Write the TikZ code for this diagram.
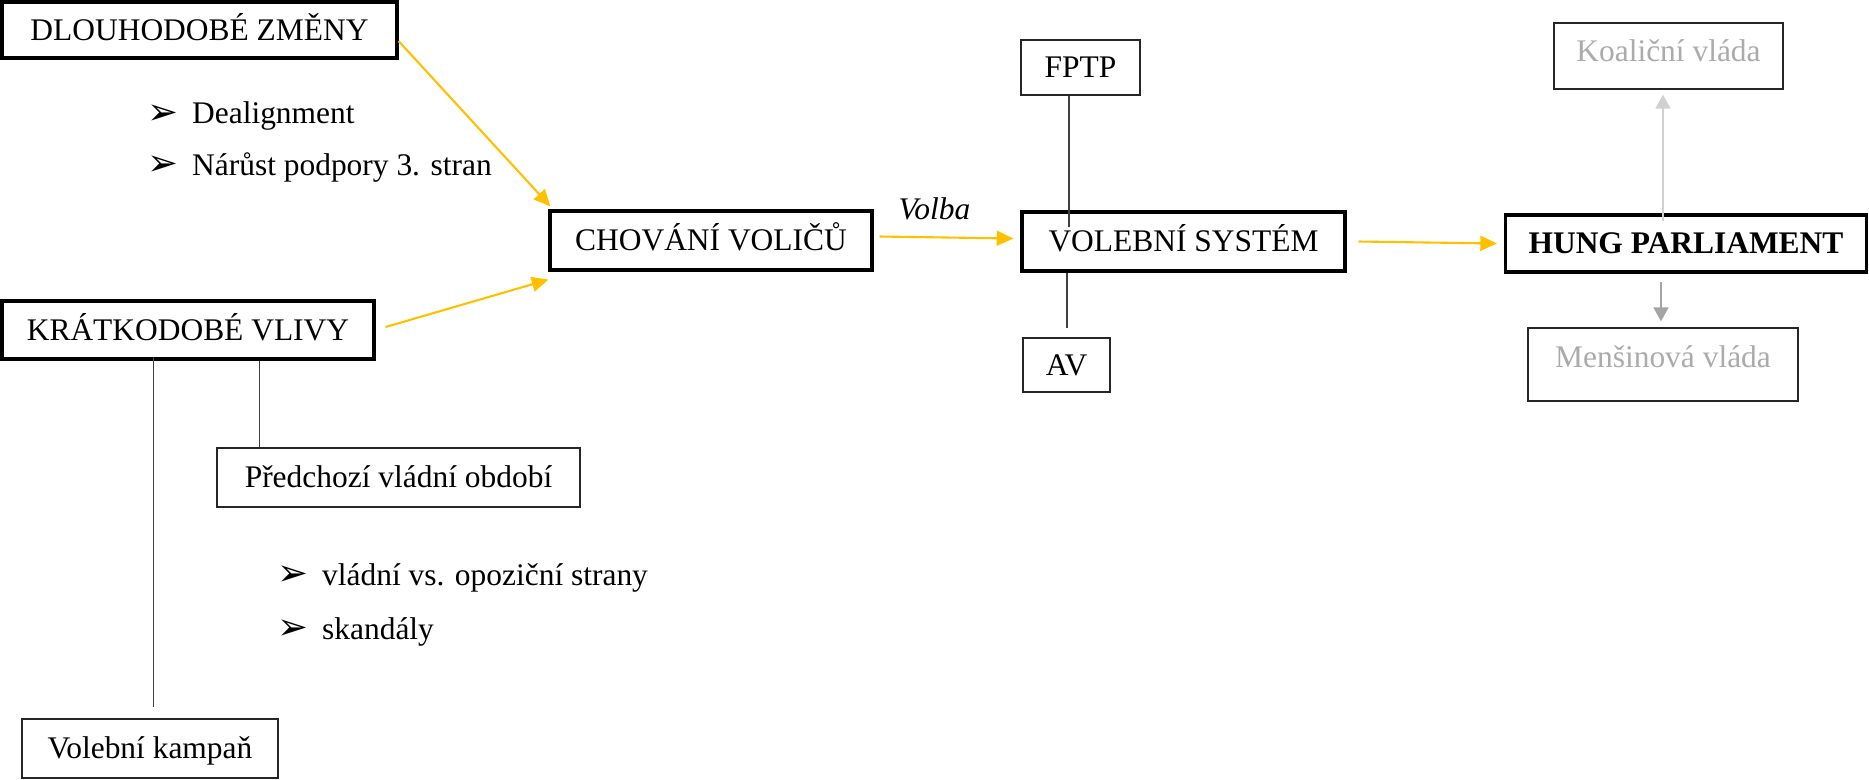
\documentclass[tikz,border=0pt]{standalone}
\usepackage{fontspec}
\setmainfont{Liberation Serif}
\newfontfamily\symfont{DejaVu Sans}
\usetikzlibrary{positioning, arrows.meta, calc}

\definecolor{gold}{RGB}{255,192,0}
\definecolor{paleline}{RGB}{210,208,208}
\definecolor{greytext}{RGB}{172,170,170}
\definecolor{greyline}{RGB}{166,163,163}

\tikzstyle{mainbox} = [rectangle, draw=black, line width=1.8pt, 
inner sep=0pt, text height=14pt, text depth=2.2pt, text centered]
\tikzstyle{subbox} = [rectangle, draw=black!85, line width=0.7pt, 
inner sep=0pt, text height=14pt, text depth=2.2pt, text centered]
\tikzstyle{greybox} = [subbox, text=greytext]
\tikzstyle{item} = [inner sep=0pt, anchor=base west]
\tikzstyle{flow} = [line width=1.2pt, draw=gold, 
-{Triangle[length=9.5pt,width=8.5pt]}]
\tikzstyle{greyarrow} = [line width=1.1pt, 
-{Triangle[length=8pt,width=8.5pt]}]
\tikzstyle{link} = [line width=0.6pt, draw=black!75]

\newcommand{\arrowitem}[1]{\makebox[25.5pt][l]{\symfont
\fontsize{21}{22}\selectfont\raisebox{-0.5pt}{➢}}#1}

\begin{document}
\begin{tikzpicture}[x=0.02cm, y=-0.02cm,
    font=\fontsize{17.9}{21.5}\selectfont]

\useasboundingbox (0,0) rectangle (1869,779);

\node (dlz) [mainbox, minimum width=7.9cm, minimum height=1.12cm] 
at (199.5,30) {DLOUHODOBÉ ZMĚNY};

\node (krv) [mainbox, minimum width=7.44cm, minimum height=1.16cm] 
at (188,330) {KRÁTKODOBÉ VLIVY};

\node (chv) [mainbox, minimum width=6.44cm, minimum height=1.18cm] 
at (711,240.5) {CHOVÁNÍ VOLIČŮ};

\node (vol) [mainbox, minimum width=6.46cm, minimum height=1.18cm] 
at (1183.5,241.5) {VOLEBNÍ SYSTÉM};

\node (hung) [mainbox, anchor=west, inner xsep=0.46cm, 
minimum height=1.14cm] at (1504,243.5) {\bfseries HUNG PARLIAMENT};

\node (fptp) [subbox, minimum width=2.38cm, minimum height=1.1cm] 
at (1080.5,67.5) {FPTP};

\node (av) [subbox, minimum width=1.74cm, minimum height=1.08cm] 
at (1066.5,365) {AV};

\node (prv) [subbox, minimum width=7.26cm, minimum height=1.18cm] 
at (398.5,477.5) {Předchozí vládní období};

\node (kamp) [subbox, minimum width=5.12cm, minimum height=1.18cm] 
at (150,748.5) {Volební kampaň};

\node (koal) [greybox, minimum width=4.58cm, minimum height=1.32cm, 
text depth=7.8pt] at (1668.5,56) {Koaliční vláda};

\node (mens) [greybox, minimum width=5.4cm, minimum height=1.46cm, 
text depth=10.2pt] at (1663,364.5) {Menšinová vláda};

\node (dealign) [item] at (147,123.5) {\arrowitem{Dealignment}};
\node (narust) [item] at (147,175) 
{\arrowitem{Nárůst podpory 3. stran}};
\node (oppos) [item] at (277,585) 
{\arrowitem{vládní vs. opoziční strany}};
\node (skandal) [item] at (277,639) {\arrowitem{skandály}};

\coordinate (fpend) at (1069,227);
\coordinate (avend) at (1067,328);
\coordinate (prvtop) at ($(prv.north west)+(43,0)$);
\coordinate (kampend) at ($(kamp.north west)+(132,-11)$);
\coordinate (koaltip) at ($(koal.south)+(-5.5,5)$);
\coordinate (menstip) at ($(mens.north)+(-2,-6)$);

\draw [flow] ($(dlz.east)+(0,11)$) -- ($(chv.north west)+(2,-3)$);
\draw [flow] ($(krv.east)+(10,-3)$) -- ($(chv.south west)+(0,8)$);
\draw [flow] ($(chv.east)+(6,-4)$) -- node[pos=0.41, above=9.5pt, 
inner sep=0pt] (volba) {\itshape Volba} ($(vol.west)+(-7,-3)$);
\draw [flow] ($(vol.east)+(12,0)$) -- ($(hung.west)+(-7,0)$);

\draw [link] (fptp.south -| fpend) -- (fpend);
\draw [link] (vol.south -| avend) -- (avend);
\draw [link] (krv.south -| prvtop) -- (prvtop);
\draw [link] ($(krv.south -| kampend)+(0,-4)$) -- (kampend);

\draw [greyarrow, draw=paleline] ($(hung.north -| koaltip)+(0,8)$) 
-- (koaltip);
\draw [greyarrow, draw=greyline] ($(hung.south -| menstip)+(0,8)$) 
-- (menstip);

\end{tikzpicture}
\end{document}
